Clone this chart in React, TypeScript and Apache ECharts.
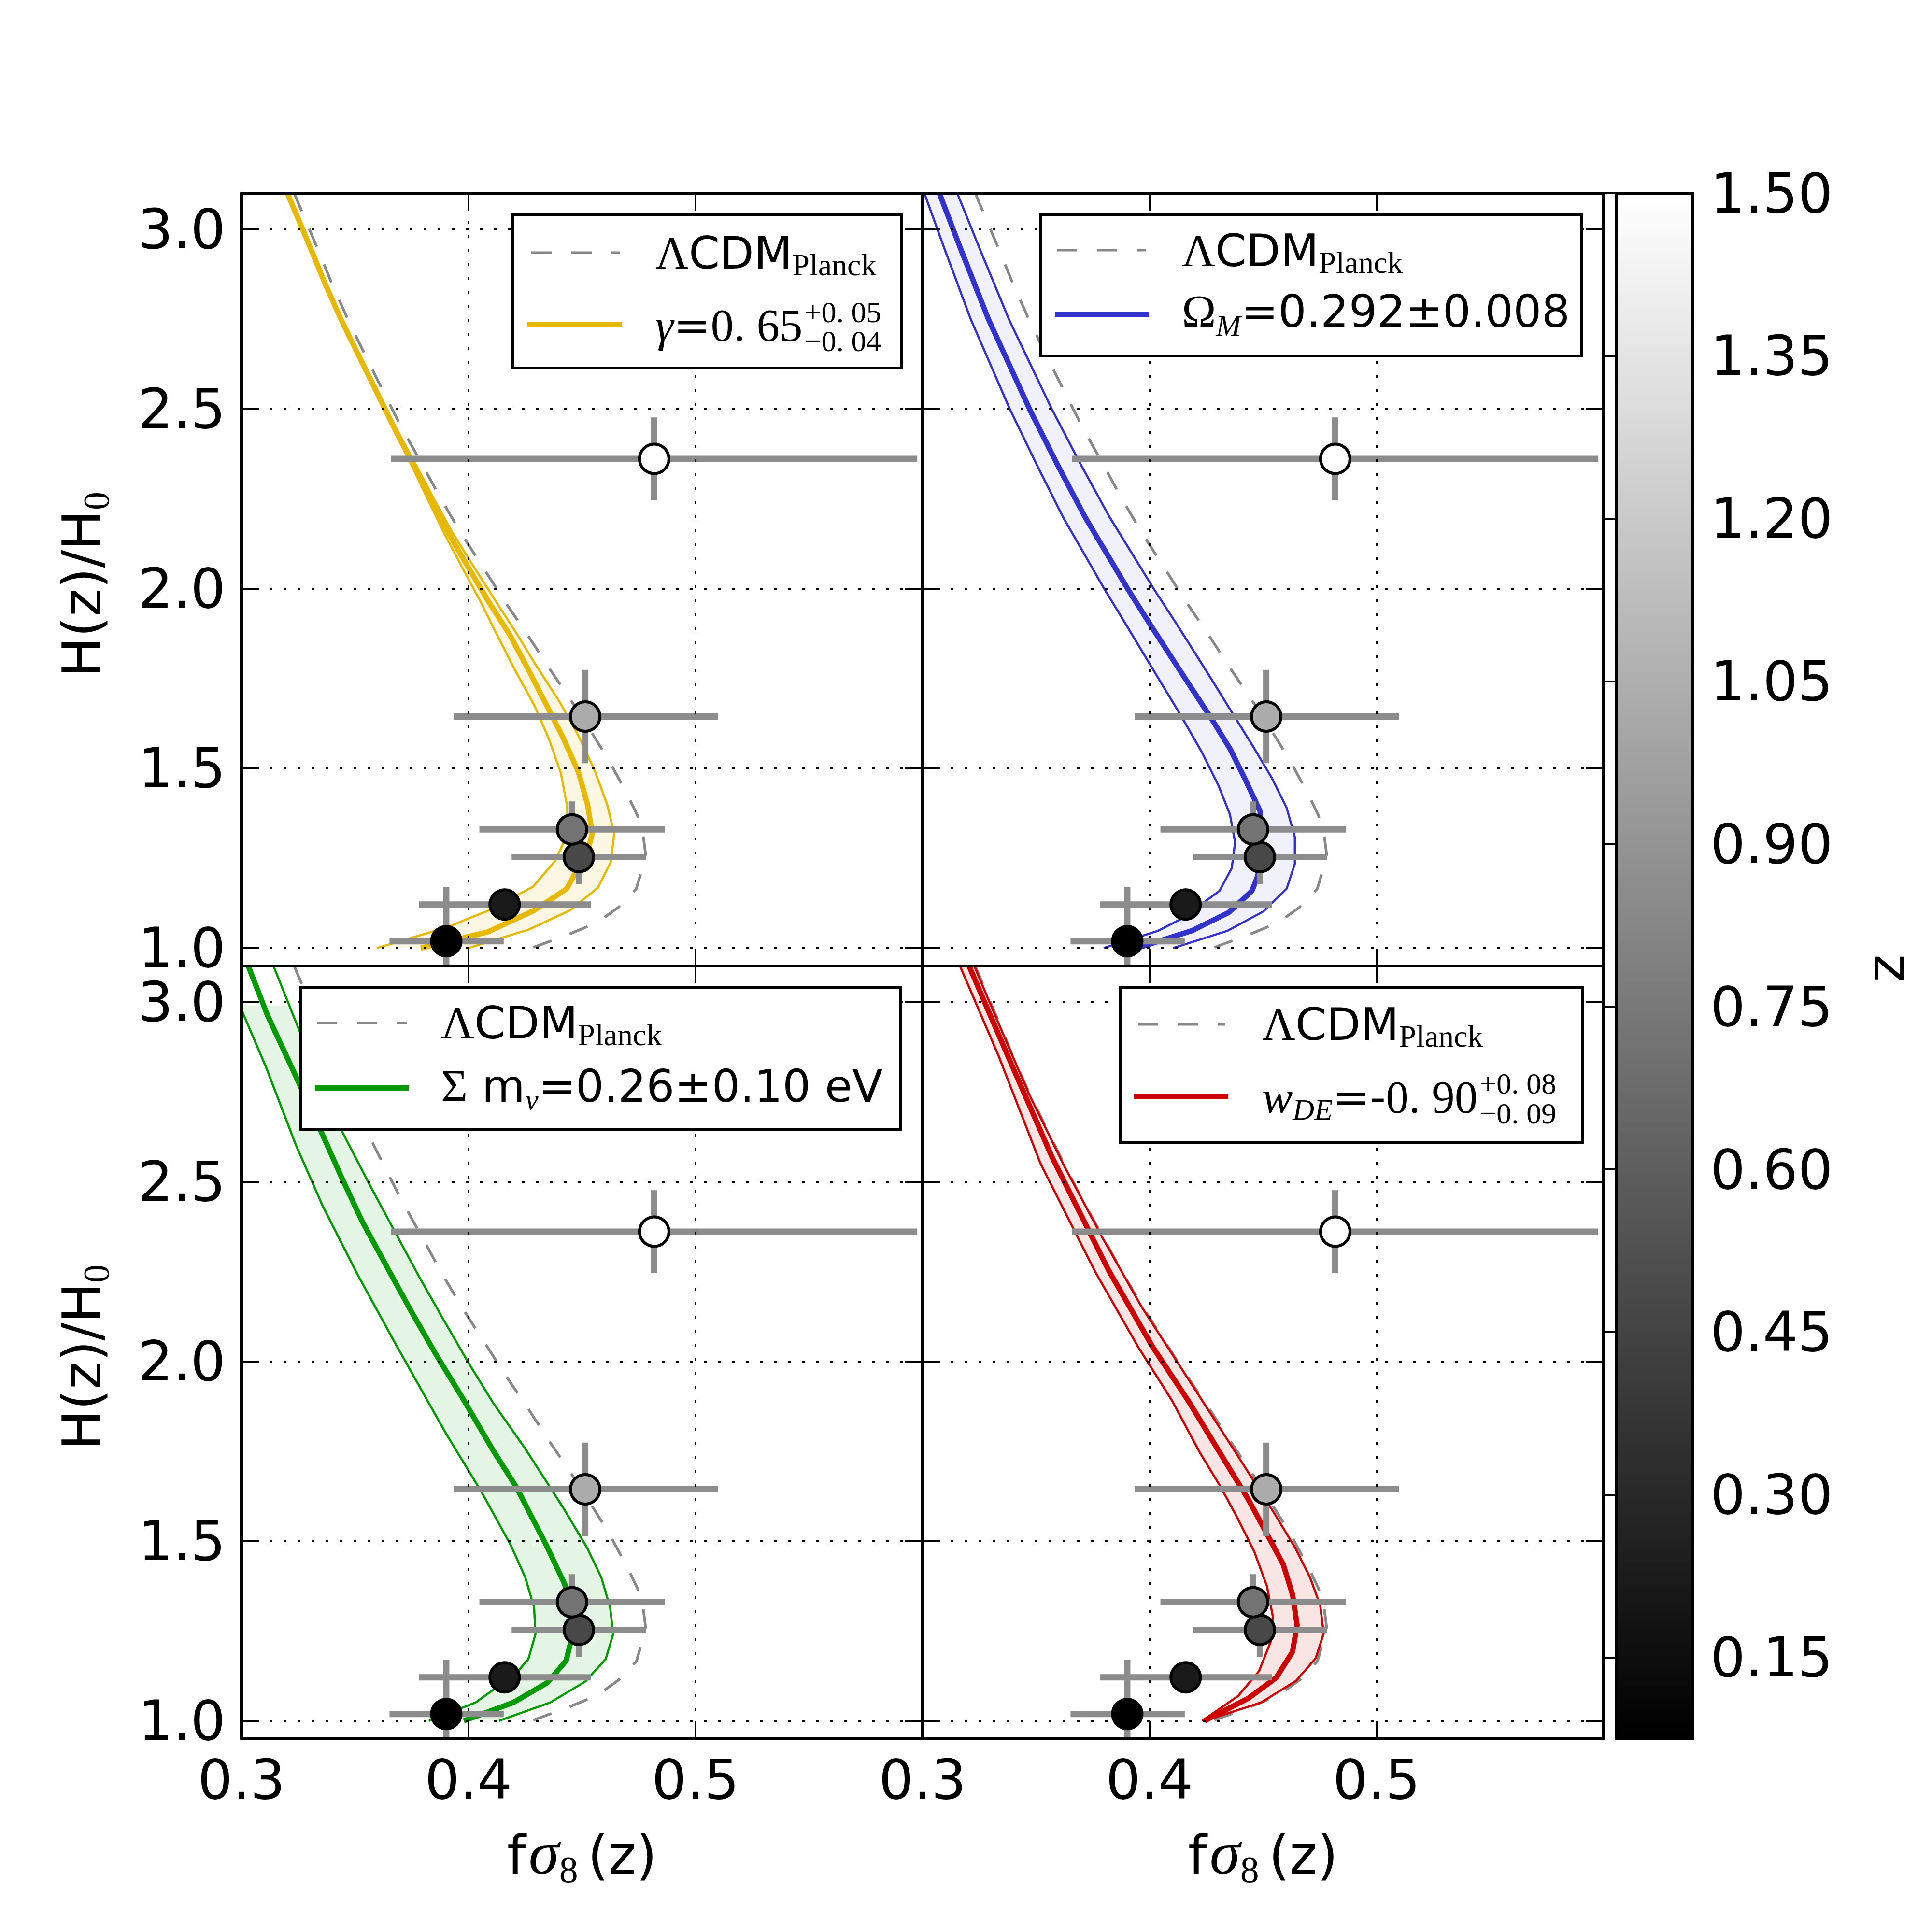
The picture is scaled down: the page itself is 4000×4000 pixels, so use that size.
import React, { useEffect, useRef } from "react";
import * as echarts from "echarts";

type Pt = [number, number];

// ---------------- axes ----------------
const X_MIN = 0.3;
const X_MAX = 0.6;
const X_STEP = 0.1;
const X_TICK_LABELS = [0.3, 0.4, 0.5];
const Y_MIN = 0.95;
const Y_MAX = 3.1;
const Y_TICKS = [1.0, 1.5, 2.0, 2.5, 3.0];
const Z_MIN = 0.075;
const Z_MAX = 1.5;
const Z_TICKS = [0.15, 0.3, 0.45, 0.6, 0.75, 0.9, 1.05, 1.2, 1.35, 1.5];

// ---------------- observations ----------------
const OBS_FS8 = [0.3902, 0.4159, 0.4486, 0.4456, 0.4514, 0.4818];
const OBS_FS8_LO = [0.3652, 0.3782, 0.419, 0.4048, 0.3934, 0.3659];
const OBS_FS8_HI = [0.4155, 0.454, 0.4783, 0.4866, 0.5098, 0.5977];
const OBS_H = [1.019, 1.121, 1.253, 1.33, 1.644, 2.361];
const OBS_H_ERR = [0.15, 0.03, 0.075, 0.078, 0.13, 0.115];
const OBS_Z = [0.075, 0.22, 0.48, 0.72, 1.03, 1.5];

// ---------------- LCDM Planck (fsigma8, H/H0) ----------------
const LCDM_PLANCK: Pt[] = [
  [0.3232, 3.1], [0.3244, 3.082], [0.3331, 2.952], [0.3399, 2.847], [0.3472, 2.744],
  [0.3548, 2.646], [0.3627, 2.545], [0.3706, 2.447], [0.3795, 2.346], [0.3879, 2.249],
  [0.3966, 2.155], [0.4064, 2.059], [0.4159, 1.965], [0.4259, 1.872], [0.4355, 1.779],
  [0.4504, 1.639], [0.4621, 1.519], [0.4703, 1.423], [0.4744, 1.369], [0.4769, 1.315],
  [0.478, 1.261], [0.4759, 1.207], [0.4739, 1.165], [0.4662, 1.114], [0.4596, 1.084],
  [0.4514, 1.057], [0.4433, 1.036], [0.4264, 0.997],
];

// ---------------- gamma ----------------
const GAMMA_MID: Pt[] = [
  [0.3202, 3.1], [0.3301, 2.952], [0.3369, 2.847], [0.3442, 2.744], [0.3518, 2.646], [0.3597, 2.545],
  [0.3673, 2.447], [0.3757, 2.346], [0.3834, 2.249], [0.3911, 2.155], [0.3999, 2.059], [0.4087, 1.965],
  [0.4181, 1.872], [0.426, 1.779], [0.434, 1.68], [0.4417, 1.585], [0.4484, 1.49], [0.4524, 1.4],
  [0.4545, 1.32], [0.453, 1.28], [0.4495, 1.24], [0.4463, 1.2], [0.4433, 1.165], [0.429, 1.105],
  [0.4086, 1.045], [0.379, 1.0],
];
const GAMMA_LO: Pt[] = [
  [0.3196, 3.1], [0.3295, 2.952], [0.3363, 2.847], [0.3436, 2.744], [0.3512, 2.646], [0.359, 2.545],
  [0.3665, 2.447], [0.3747, 2.346], [0.382, 2.249], [0.3892, 2.155], [0.3972, 2.059], [0.4052, 1.965],
  [0.4125, 1.872], [0.42, 1.779], [0.429, 1.675], [0.4356, 1.579], [0.4407, 1.486], [0.4433, 1.399],
  [0.4433, 1.315], [0.4417, 1.291], [0.4382, 1.243], [0.4285, 1.171], [0.4091, 1.105],
  [0.3902, 1.057], [0.3596, 1.0],
];
const GAMMA_HI: Pt[] = [
  [0.3208, 3.1], [0.3307, 2.952], [0.3375, 2.847], [0.3448, 2.744], [0.3524, 2.646], [0.3604, 2.545],
  [0.3681, 2.447], [0.3767, 2.346], [0.3848, 2.249], [0.393, 2.155], [0.4025, 2.059], [0.412, 1.965],
  [0.4215, 1.872], [0.4305, 1.779], [0.4402, 1.684], [0.4484, 1.591], [0.4555, 1.495], [0.4611, 1.399],
  [0.4642, 1.318], [0.4627, 1.24], [0.457, 1.168], [0.4448, 1.105], [0.4264, 1.051], [0.4, 1.0],
];

// ---------------- Omega_M ----------------
const OMEGA_MID: Pt[] = [
  [0.3074, 3.1], [0.3165, 2.95], [0.329, 2.75], [0.3471, 2.5], [0.359, 2.35], [0.3715, 2.2],
  [0.3903, 2.0], [0.4012, 1.891], [0.416, 1.747], [0.4272, 1.639], [0.4354, 1.555], [0.442, 1.471],
  [0.4487, 1.381], [0.4494, 1.315], [0.4487, 1.25], [0.4477, 1.201], [0.4451, 1.159],
  [0.4349, 1.099], [0.4186, 1.048], [0.3946, 1.0],
];
const OMEGA_LO: Pt[] = [
  [0.3008, 3.1], [0.3094, 2.95], [0.3212, 2.75], [0.3384, 2.5], [0.3499, 2.35], [0.3618, 2.2],
  [0.38, 2.0], [0.3905, 1.891], [0.4002, 1.789], [0.414, 1.645], [0.4232, 1.543], [0.4303, 1.453],
  [0.4354, 1.372], [0.4377, 1.294], [0.4362, 1.222], [0.4308, 1.159], [0.414, 1.081],
  [0.4038, 1.048], [0.3798, 1.0],
];
const OMEGA_HI: Pt[] = [
  [0.3153, 3.1], [0.3249, 2.95], [0.338, 2.75], [0.3569, 2.5], [0.3693, 2.35], [0.3823, 2.2],
  [0.4018, 2.0], [0.413, 1.891], [0.4262, 1.759], [0.4385, 1.633], [0.4456, 1.561], [0.4538, 1.474],
  [0.4604, 1.39], [0.464, 1.309], [0.464, 1.234], [0.4604, 1.165], [0.4502, 1.102],
  [0.4344, 1.048], [0.4104, 1.0],
];

// ---------------- sum m_nu ----------------
const MNU_MID: Pt[] = [
  [0.303, 3.1], [0.3115, 2.962], [0.3222, 2.817], [0.3346, 2.646], [0.3437, 2.517], [0.3532, 2.389],
  [0.3643, 2.26], [0.3747, 2.14], [0.3855, 2.021], [0.3971, 1.901], [0.4104, 1.757], [0.4211, 1.65],
  [0.4347, 1.483], [0.4424, 1.38], [0.4447, 1.3], [0.445, 1.219], [0.443, 1.167], [0.4347, 1.106],
  [0.4198, 1.051], [0.3979, 1.0],
];
const MNU_LO: Pt[] = [
  [0.2917, 3.1], [0.3011, 2.962], [0.3109, 2.817], [0.3239, 2.603], [0.3358, 2.432], [0.351, 2.243],
  [0.3673, 2.055], [0.3825, 1.884], [0.3902, 1.798], [0.4057, 1.637], [0.4186, 1.489], [0.425, 1.399],
  [0.4289, 1.315], [0.4295, 1.241], [0.4263, 1.171], [0.4205, 1.129], [0.4031, 1.051], [0.3825, 1.0],
];
const MNU_HI: Pt[] = [
  [0.3141, 3.1], [0.325, 2.928], [0.3445, 2.637], [0.3564, 2.492], [0.3673, 2.364], [0.3782, 2.236],
  [0.389, 2.116], [0.3999, 1.997], [0.4107, 1.886], [0.4248, 1.759], [0.4418, 1.592], [0.4521, 1.483],
  [0.4585, 1.399], [0.4624, 1.315], [0.4637, 1.241], [0.4604, 1.171], [0.4514, 1.109],
  [0.436, 1.051], [0.4134, 1.0],
];

// ---------------- w_DE ----------------
const WDE_MID: Pt[] = [
  [0.3205, 3.1], [0.3375, 2.851], [0.357, 2.569], [0.382, 2.253], [0.4012, 2.042], [0.417, 1.891],
  [0.4303, 1.753], [0.4436, 1.615], [0.4528, 1.507], [0.4589, 1.435], [0.463, 1.351], [0.465, 1.267],
  [0.463, 1.192], [0.4558, 1.12], [0.4436, 1.063], [0.4242, 1.0],
];
const WDE_LO: Pt[] = [
  [0.3165, 3.1], [0.3335, 2.85], [0.352, 2.55], [0.376, 2.25], [0.395, 2.04], [0.4099, 1.891],
  [0.4221, 1.747], [0.4313, 1.651], [0.4385, 1.567], [0.4461, 1.471], [0.4517, 1.375], [0.4543, 1.291],
  [0.4533, 1.219], [0.4482, 1.138], [0.439, 1.069], [0.4232, 1.0],
];
const WDE_HI: Pt[] = [
  [0.3228, 3.1], [0.3327, 2.952], [0.3468, 2.745], [0.3623, 2.545], [0.3791, 2.346], [0.3962, 2.155],
  [0.406, 2.059], [0.4232, 1.891], [0.4385, 1.741], [0.4548, 1.579], [0.464, 1.483], [0.4707, 1.399],
  [0.4752, 1.321], [0.4767, 1.243], [0.4732, 1.174], [0.4645, 1.111], [0.4492, 1.051], [0.4242, 1.0],
];

// ---------------- layout / style ----------------
const PANEL_W = 1410;
const PANEL_H = 1600;
const COL_X = [500, 1910];
const ROW_Y = [400, 2000];
const CB_BOX = { left: 3346, top: 400, width: 159, height: 3200 };

const SANS = "DejaVu Sans";
const SERIF = "Liberation Serif";
const TICK_FS = 114;
const TITLE_FS = 110;
const LEG_FS = 92;
const LEG_SUB = 62;

type Part = { t: string; f: "sans" | "serif"; s: number; it?: boolean; dy?: number; dx?: number };

const ROW1: Part[] = [
  { t: "\u039B", f: "serif", s: LEG_FS + 3 },
  { t: "CDM", f: "sans", s: LEG_FS },
  { t: "Planck", f: "serif", s: LEG_SUB + 2, dy: 14 },
];

const PANELS = [
  {
    col: 0, row: 0, color: "#E6B800", fill: "rgba(230,184,0,0.11)",
    lo: GAMMA_LO, mid: GAMMA_MID, hi: GAMMA_HI, fillTop: 9,
    legend: {
      box: [1061, 444, 805, 318], dash: [1100, 1283, 523], line: [1092, 1287, 672],
      r1: [1357, 556], r2: [1357, 706],
      parts: [
        { t: "\u03B3", f: "serif", s: LEG_FS + 3, it: true },
        { t: "=", f: "sans", s: LEG_FS },
        { t: "0. 65", f: "serif", s: LEG_FS + 3 },
      ] as Part[],
      scripts: { text: "+0. 05\n\u22120. 04", supBase: 667, subBase: 727 },
    },
  },
  {
    col: 1, row: 0, color: "#3333CC", fill: "rgba(51,51,204,0.07)",
    lo: OMEGA_LO, mid: OMEGA_MID, hi: OMEGA_HI, fillTop: 9,
    legend: {
      box: [2155, 445, 1119, 292], dash: [2188, 2373, 518], line: [2184, 2379, 651],
      r1: [2447, 551], r2: [2447, 677],
      parts: [
        { t: "\u03A9", f: "serif", s: LEG_FS + 3 },
        { t: "M", f: "serif", s: LEG_SUB, it: true, dy: 18 },
        { t: "=0.292\u00B10.008", f: "sans", s: LEG_FS },
      ] as Part[],
      scripts: null,
    },
  },
  {
    col: 0, row: 1, color: "#009900", fill: "rgba(0,153,0,0.1)",
    lo: MNU_LO, mid: MNU_MID, hi: MNU_HI, fillTop: 2.99,
    legend: {
      box: [622, 2044, 1243, 294], dash: [656, 842, 2118], line: [652, 846, 2253],
      r1: [913, 2150], r2: [913, 2281],
      parts: [
        { t: "\u03A3", f: "serif", s: LEG_FS + 3 },
        { t: " m", f: "sans", s: LEG_FS },
        { t: "\u03BD", f: "serif", s: LEG_SUB, it: true, dy: 16 },
        { t: "=0.26\u00B10.10 eV", f: "sans", s: LEG_FS },
      ] as Part[],
      scripts: null,
    },
  },
  {
    col: 1, row: 1, color: "#CC0000", fill: "rgba(204,0,0,0.1)",
    lo: WDE_LO, mid: WDE_MID, hi: WDE_HI, fillTop: 9,
    legend: {
      box: [2320, 2044, 957, 322], dash: [2356, 2536, 2121], line: [2348, 2543, 2270],
      r1: [2613, 2153], r2: [2613, 2304],
      parts: [
        { t: "w", f: "serif", s: LEG_FS + 3, it: true },
        { t: "DE", f: "serif", s: LEG_SUB, it: true, dy: 14 },
        { t: "=-", f: "sans", s: LEG_FS },
        { t: "0. 90", f: "serif", s: LEG_FS + 3 },
      ] as Part[],
      scripts: { text: "+0. 08\n\u22120. 09", supBase: 2264, subBase: 2326 },
    },
  },
];

// ---------------- helpers ----------------
const CENTRAL: Record<string, number> = { sans: 0.346, serif: 0.3375 };
const FAM: Record<string, string> = { sans: SANS, serif: SERIF };

function textEl(x: number, y: number, text: string, p: Part, z: number, extra: any = {}) {
  return {
    type: "text",
    x,
    y,
    z,
    silent: true,
    style: {
      text,
      fontSize: p.s,
      fontFamily: FAM[p.f],
      fontStyle: p.it ? "italic" : "normal",
      fill: "#000",
      align: "left",
      textAlign: "left",
      verticalAlign: "middle",
      textVerticalAlign: "middle",
      ...extra,
    },
  };
}

function runText(ctx: CanvasRenderingContext2D, x0: number, base: number, parts: Part[], z = 100) {
  let x = x0;
  const els: any[] = [];
  for (const p of parts) {
    x += p.dx || 0;
    ctx.font = `${p.it ? "italic " : ""}${p.s}px "${FAM[p.f]}"`;
    const w = ctx.measureText(p.t).width;
    els.push(textEl(x, base + (p.dy || 0) - CENTRAL[p.f] * p.s, p.t, p, z));
    x += w;
  }
  return { els, end: x };
}

function measureParts(ctx: CanvasRenderingContext2D, parts: Part[]) {
  let w = 0;
  for (const p of parts) {
    ctx.font = `${p.it ? "italic " : ""}${p.s}px "${FAM[p.f]}"`;
    w += ctx.measureText(p.t).width + (p.dx || 0);
  }
  return w;
}

function clipTop(arr: Pt[], top: number): Pt[] {
  const out: Pt[] = [];
  for (let i = 0; i < arr.length; i++) {
    if (arr[i][1] <= top) {
      if (i > 0 && arr[i - 1][1] > top) {
        const a = arr[i - 1];
        const b = arr[i];
        const t = (top - b[1]) / (a[1] - b[1]);
        out.push([b[0] + t * (a[0] - b[0]), top]);
      }
      out.push(arr[i]);
    }
  }
  return out;
}

function buildOption(ctx: CanvasRenderingContext2D) {
  const grid: any[] = [];
  const xAxis: any[] = [];
  const yAxis: any[] = [];
  const series: any[] = [];
  const scatterIdx: number[] = [];
  const graphics: any[] = [];

  const tickStyle = { color: "#000", width: 4 };
  const spine = { show: true, onZero: false, lineStyle: { color: "#000", width: 6 } };
  const dotted = { show: true, lineStyle: { color: "#000", width: 4, type: [6, 23] } };
  const labelStyle = { color: "#000", fontFamily: SANS, fontSize: TICK_FS };

  PANELS.forEach((p, i) => {
    grid.push({ left: COL_X[p.col], top: ROW_Y[p.row], width: PANEL_W, height: PANEL_H });
    const showX = p.row === 1;
    const showY = p.col === 0;
    xAxis.push({
      gridIndex: i, type: "value", position: "bottom", min: X_MIN, max: X_MAX, interval: X_STEP, z: 10,
      axisLine: spine,
      axisTick: { show: true, inside: true, length: 36, lineStyle: tickStyle },
      axisLabel: {
        show: showX, customValues: X_TICK_LABELS, margin: 27, ...labelStyle,
        formatter: (v: number) => v.toFixed(1),
      },
      splitLine: dotted,
    });
    xAxis.push({
      gridIndex: i, type: "value", position: "top", min: X_MIN, max: X_MAX, interval: X_STEP, z: 10,
      axisLine: spine,
      axisTick: { show: true, inside: true, length: 36, lineStyle: tickStyle },
      axisLabel: { show: false },
      splitLine: { show: false },
    });
    yAxis.push({
      gridIndex: i, type: "value", position: "left", min: Y_MIN, max: Y_MAX, z: 10,
      axisLine: spine,
      axisTick: { show: true, inside: true, length: 36, lineStyle: tickStyle, customValues: Y_TICKS },
      axisLabel: {
        show: showY, customValues: Y_TICKS, margin: 33, ...labelStyle,
        formatter: (v: number) => v.toFixed(1),
      },
      splitLine: dotted,
    });
    yAxis.push({
      gridIndex: i, type: "value", position: "right", min: Y_MIN, max: Y_MAX, z: 10,
      axisLine: spine,
      axisTick: { show: true, inside: true, length: 36, lineStyle: tickStyle, customValues: Y_TICKS },
      axisLabel: { show: false },
      splitLine: { show: false },
    });

    const xi = 2 * i;
    const yi = 2 * i;
    const lo = clipTop(p.lo, p.fillTop);
    const hi = clipTop(p.hi, p.fillTop);
    const poly: Pt[] = [...lo, ...hi.slice().reverse()];
    series.push({
      type: "custom", xAxisIndex: xi, yAxisIndex: yi, clip: true, z: 1, silent: true,
      data: [[0.45, 2.0]],
      renderItem: (_params: any, api: any) => ({
        type: "polygon",
        shape: { points: poly.map((q) => api.coord(q)) },
        style: { fill: p.fill, stroke: "none" },
      }),
    });
    series.push({
      type: "line", xAxisIndex: xi, yAxisIndex: yi, data: LCDM_PLANCK, symbol: "none", z: 2,
      lineStyle: { color: "#888888", width: 5.5, type: [40, 40] }, silent: true,
    });
    [p.lo, p.hi].forEach((arr) =>
      series.push({
        type: "line", xAxisIndex: xi, yAxisIndex: yi, data: arr, symbol: "none", z: 3, silent: true,
        lineStyle: { color: p.color, width: 4.5 },
      })
    );
    series.push({
      type: "line", xAxisIndex: xi, yAxisIndex: yi, data: p.mid, symbol: "none", z: 3, silent: true,
      lineStyle: { color: p.color, width: 11 },
    });
    series.push({
      type: "custom", xAxisIndex: xi, yAxisIndex: yi, clip: true, z: 4, silent: true,
      data: OBS_FS8.map((x, k) => [x, OBS_H[k], OBS_FS8_LO[k], OBS_FS8_HI[k], OBS_H_ERR[k]]),
      renderItem: (_params: any, api: any) => {
        const x = api.value(0);
        const y = api.value(1);
        const a = api.coord([api.value(2), y]);
        const b = api.coord([api.value(3), y]);
        const c = api.coord([x, y - api.value(4)]);
        const d = api.coord([x, y + api.value(4)]);
        const st = { stroke: "#8c8c8c", lineWidth: 13 };
        return {
          type: "group",
          children: [
            { type: "line", shape: { x1: a[0], y1: a[1], x2: b[0], y2: b[1] }, style: st },
            { type: "line", shape: { x1: c[0], y1: c[1], x2: d[0], y2: d[1] }, style: st },
          ],
        };
      },
    });
    scatterIdx.push(series.length);
    series.push({
      type: "scatter", xAxisIndex: xi, yAxisIndex: yi, z: 5, silent: true,
      data: OBS_FS8.map((x, k) => [x, OBS_H[k], OBS_Z[k]]),
      symbol: "circle", symbolSize: 61,
      itemStyle: { borderColor: "#000", borderWidth: 6, opacity: 1 },
    });

    // legend
    const L = p.legend;
    graphics.push({
      type: "rect", z: 100, silent: true,
      shape: { x: L.box[0], y: L.box[1], width: L.box[2], height: L.box[3] },
      style: { fill: "#fff", stroke: "#000", lineWidth: 6 },
    });
    graphics.push({
      type: "line", z: 101, silent: true,
      shape: { x1: L.dash[0], y1: L.dash[2], x2: L.dash[1], y2: L.dash[2] },
      style: { stroke: "#888888", lineWidth: 5, lineDash: [42, 41] },
    });
    graphics.push({
      type: "line", z: 101, silent: true,
      shape: { x1: L.line[0], y1: L.line[2], x2: L.line[1], y2: L.line[2] },
      style: { stroke: p.color, lineWidth: 12 },
    });
    graphics.push(...runText(ctx, L.r1[0], L.r1[1], ROW1, 102).els);
    const r2 = runText(ctx, L.r2[0], L.r2[1], L.parts, 102);
    graphics.push(...r2.els);
    if (L.scripts) {
      const sp: Part = { t: "", f: "serif", s: LEG_SUB };
      const gap = L.scripts.subBase - L.scripts.supBase;
      const midSup = L.scripts.supBase - CENTRAL.serif * LEG_SUB;
      graphics.push(
        textEl(r2.end + 4, midSup + gap / 2, L.scripts.text, sp, 102, { lineHeight: gap })
      );
    }
  });

  // colorbar
  const cbi = PANELS.length;
  grid.push({ left: CB_BOX.left, top: CB_BOX.top, width: CB_BOX.width, height: CB_BOX.height });
  xAxis.push({ gridIndex: cbi, type: "value", min: 0, max: 1, show: false });
  yAxis.push({
    gridIndex: cbi, type: "value", position: "right", min: Z_MIN, max: Z_MAX, z: 10,
    axisLine: { show: false },
    axisTick: { show: true, inside: true, length: 25, lineStyle: tickStyle, customValues: Z_TICKS },
    axisLabel: {
      show: true, customValues: Z_TICKS, margin: 36, ...labelStyle,
      formatter: (v: number) => v.toFixed(2),
    },
    splitLine: { show: false },
  });
  series.push({
    type: "custom", xAxisIndex: 2 * cbi, yAxisIndex: 2 * cbi, z: 1, silent: true,
    data: [[0, Z_MIN, Z_MAX]],
    renderItem: (_params: any, api: any) => {
      const p0 = api.coord([0, api.value(2)]);
      const p1 = api.coord([1, api.value(1)]);
      return {
        type: "rect",
        shape: { x: p0[0], y: p0[1], width: p1[0] - p0[0], height: p1[1] - p0[1] },
        style: {
          fill: new echarts.graphic.LinearGradient(0, 0, 0, 1, [
            { offset: 0, color: "#ffffff" },
            { offset: 1, color: "#000000" },
          ]),
          stroke: "#000",
          lineWidth: 6,
        },
      };
    },
  });

  // axis titles
  const xTitle: Part[] = [
    { t: "f", f: "sans", s: TITLE_FS },
    { t: "\u03C3", f: "serif", s: 128, it: true, dx: 6 },
    { t: "8", f: "serif", s: 78, dy: 18 },
    { t: "(z)", f: "sans", s: TITLE_FS, dx: 20 },
  ];
  const xw = measureParts(ctx, xTitle);
  COL_X.forEach((cx) => {
    graphics.push(...runText(ctx, cx + PANEL_W / 2 - xw / 2, 3879, xTitle, 50).els);
  });
  const yTitle: Part[] = [
    { t: "H(z)/H", f: "sans", s: TITLE_FS },
    { t: "0", f: "serif", s: 76, dy: 16 },
  ];
  const yw = measureParts(ctx, yTitle);
  ROW_Y.forEach((ry) => {
    graphics.push({
      type: "group", x: 168, y: ry + PANEL_H / 2 + 10, rotation: Math.PI / 2,
      children: runText(ctx, -yw / 2, 0.365 * TITLE_FS, yTitle, 50).els,
    });
  });
  ctx.font = `${TITLE_FS}px "${SANS}"`;
  const zw = ctx.measureText("z").width;
  graphics.push({
    type: "group", x: 3912, y: 2005, rotation: Math.PI / 2,
    children: runText(ctx, -zw / 2, 0.27 * TITLE_FS, [{ t: "z", f: "sans", s: TITLE_FS }], 50).els,
  });

  return {
    animation: false,
    backgroundColor: "#ffffff",
    grid,
    xAxis,
    yAxis,
    visualMap: [
      {
        type: "continuous", show: false, min: Z_MIN, max: Z_MAX, dimension: 2,
        seriesIndex: scatterIdx, inRange: { color: ["#000000", "#ffffff"] },
      },
    ],
    series,
    graphic: { elements: graphics },
  };
}

export default function App() {
  const ref = useRef<HTMLDivElement>(null);
  useEffect(() => {
    if (!ref.current) return;
    const chart = echarts.init(ref.current, null, { renderer: "svg", width: 4000, height: 4000 });
    const ctx = document.createElement("canvas").getContext("2d") as CanvasRenderingContext2D;
    chart.setOption(buildOption(ctx) as any);
    return () => chart.dispose();
  }, []);
  return (
    <div
      ref={ref}
      style={{ position: "absolute", left: 0, top: 0, width: 4000, height: 4000, background: "#fff" }}
    />
  );
}
